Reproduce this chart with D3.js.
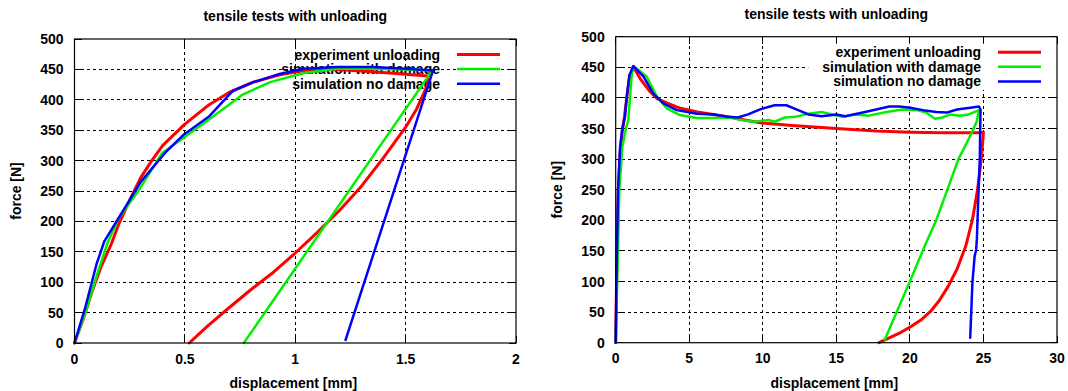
<!DOCTYPE html>
<html>
<head>
<meta charset="utf-8">
<script src="https://cdn.jsdelivr.net/npm/d3@7/dist/d3.min.js"></script>
<style>
  html, body { margin: 0; padding: 0; background: #fff; }
  svg { display: block; }
  text { font-family: "Liberation Sans", Arial, Helvetica, sans-serif; font-weight: bold; fill: #000; }
</style>
</head>
<body>
<svg id="chart" width="1068" height="391"></svg>
<script>
// ---- data: force [N] versus displacement [mm] ----
const seriesNames = ["experiment unloading", "simulation with damage", "simulation no damage"];
const seriesColors = ["#ff0000", "#00f000", "#0000ff"];
const seriesWidths = [3, 2.5, 2.5];

const yTicks = [0, 50, 100, 150, 200, 250, 300, 350, 400, 450, 500];

// short test (unloading from ~1.6 mm)
const shortXTicks = [0, 0.5, 1, 1.5, 2];
const shortXTickLabels = ["0", "0.5", "1", "1.5", "2"];
const shortExperiment = [
  [0, 0], [0.04, 40], [0.08, 85], [0.12, 125], [0.166, 162], [0.2, 195], [0.25, 235], [0.3, 272],
  [0.35, 300], [0.4, 325], [0.5, 360], [0.61, 392], [0.7, 412], [0.81, 429], [0.93, 441],
  [1.04, 448], [1.19, 450], [1.35, 446], [1.5, 442], [1.6, 439],
  [1.6, 425], [1.55, 385], [1.5, 355], [1.4, 305], [1.3, 258], [1.2, 218], [1.1, 182],
  [1.0, 148], [0.9, 116], [0.8, 88], [0.7, 58], [0.6, 27], [0.52, 0]
];
const shortDamage = [
  [0, 0], [0.05, 50], [0.1, 110], [0.15, 165], [0.2, 205], [0.289, 250], [0.396, 312],
  [0.496, 338], [0.611, 368], [0.764, 409], [0.887, 429], [1.04, 444], [1.19, 451],
  [1.35, 451], [1.5, 450], [1.62, 448], [0.767, 0]
];
const shortNoDamage = [
  [0, 0], [0.05, 60], [0.1, 130], [0.135, 167], [0.18, 194], [0.258, 240], [0.3, 265],
  [0.411, 313], [0.496, 343], [0.611, 373], [0.718, 415], [0.81, 429], [0.933, 443],
  [1.04, 451], [1.19, 454], [1.35, 454], [1.5, 451], [1.624, 448], [1.228, 5]
];

// long test (unloading from ~25 mm)
const longXTicks = [0, 5, 10, 15, 20, 25, 30];
const longXTickLabels = ["0", "5", "10", "15", "20", "25", "30"];
const longExperiment = [
  [0, 0], [0.06, 100], [0.18, 250], [0.3, 310], [0.45, 345], [0.6, 370], [0.75, 400], [0.95, 435],
  [1.2, 451], [1.65, 432], [2.34, 410], [2.8, 399], [3.47, 392], [4.4, 383], [5.55, 377],
  [7.4, 370], [8.5, 365], [9.9, 359], [12.0, 355], [15.0, 350], [17.7, 346], [20.0, 344],
  [22.3, 343], [24.6, 343], [25.0, 344], [24.85, 300], [24.6, 250], [24.25, 201], [23.8, 158],
  [23.2, 120], [22.6, 92], [22.0, 69], [21.4, 51], [20.8, 38], [20.1, 27], [19.4, 17],
  [18.6, 8], [17.9, 0]
];
const longDamage = [
  [0, 0], [0.1, 100], [0.25, 250], [0.45, 320], [0.7, 350], [0.86, 364], [1.0, 410], [1.1, 440],
  [1.26, 451], [2.1, 435], [2.8, 402], [3.47, 383], [4.37, 372], [5.5, 367], [6.7, 367],
  [7.84, 368], [8.5, 364], [9.45, 361], [10.4, 364], [10.8, 361], [11.5, 368], [12.2, 369],
  [13.1, 374], [14.0, 377], [14.7, 373], [15.4, 369], [16.3, 373], [17.2, 371], [18.4, 377],
  [19.5, 381], [20.5, 380], [21.1, 376], [21.7, 366], [22.2, 368], [22.75, 373], [23.4, 371],
  [24.0, 373], [24.7, 380], [24.55, 362], [24.2, 343], [23.75, 321], [23.3, 300], [22.55, 250],
  [21.8, 201], [20.92, 153], [20.0, 100], [19.08, 49], [18.4, 11], [18.3, 5]
];
const longNoDamage = [
  [0, 0], [0.05, 100], [0.16, 250], [0.3, 320], [0.45, 350], [0.63, 369], [0.75, 402],
  [0.93, 437], [1.2, 452], [1.88, 435], [2.56, 407], [3.24, 391], [4.15, 380], [5.5, 374],
  [6.7, 373], [7.6, 369], [8.3, 368], [9.0, 373], [9.9, 382], [10.8, 388], [11.6, 388],
  [12.2, 382], [13.1, 373], [14.0, 370], [15.0, 373], [15.6, 370], [16.8, 376], [17.7, 381],
  [18.6, 386], [19.3, 386], [20.0, 384], [20.9, 380], [21.8, 377], [22.5, 376], [23.2, 381],
  [24.1, 384], [24.7, 386], [24.8, 381], [24.75, 300], [24.67, 250], [24.55, 168], [24.5, 152],
  [24.4, 141], [24.25, 98], [24.1, 8]
];

// ---- panel layout ----
const panels = [
  {
    box: { left: 74.5, right: 516, top: 39, bottom: 343 },
    xDomain: [0, 2], xTicks: shortXTicks, xLabels: shortXTickLabels,
    series: [shortExperiment, shortDamage, shortNoDamage],
    opaqueKey: false
  },
  {
    box: { left: 615.7, right: 1057, top: 36.7, bottom: 342.7 },
    xDomain: [0, 30], xTicks: longXTicks, xLabels: longXTickLabels,
    series: [longExperiment, longDamage, longNoDamage],
    opaqueKey: true
  }
];

const svg = d3.select("#chart");
const TICK = 7;

panels.forEach(p => {
  const b = p.box;
  const x = d3.scaleLinear().domain(p.xDomain).range([b.left, b.right]);
  const y = d3.scaleLinear().domain([0, 500]).range([b.bottom, b.top]);
  const g = svg.append("g");

  // dashed grid at interior ticks
  const grid = g.append("g").attr("stroke", "#000").attr("stroke-width", 1)
    .attr("stroke-dasharray", "3,3").attr("shape-rendering", "crispEdges");
  p.xTicks.slice(1, -1).forEach(t => {
    grid.append("line").attr("x1", x(t)).attr("x2", x(t)).attr("y1", b.bottom).attr("y2", b.top);
  });
  yTicks.slice(1, -1).forEach(t => {
    grid.append("line").attr("x1", b.left).attr("x2", b.right).attr("y1", y(t)).attr("y2", y(t));
  });

  // inward tick marks on all four sides
  const ticks = g.append("g").attr("stroke", "#000").attr("stroke-width", 1).attr("shape-rendering", "crispEdges");
  p.xTicks.forEach(t => {
    ticks.append("line").attr("x1", x(t)).attr("x2", x(t)).attr("y1", b.bottom).attr("y2", b.bottom - TICK);
    ticks.append("line").attr("x1", x(t)).attr("x2", x(t)).attr("y1", b.top).attr("y2", b.top + TICK);
  });
  yTicks.forEach(t => {
    ticks.append("line").attr("x1", b.left).attr("x2", b.left + TICK).attr("y1", y(t)).attr("y2", y(t));
    ticks.append("line").attr("x1", b.right).attr("x2", b.right - TICK).attr("y1", y(t)).attr("y2", y(t));
  });

  // tick labels
  g.append("g").selectAll("text").data(p.xTicks).join("text")
    .attr("x", d => x(d)).attr("y", b.bottom + 20.5)
    .attr("text-anchor", "middle").attr("font-size", 14)
    .text((d, i) => p.xLabels[i]);
  g.append("g").selectAll("text").data(yTicks).join("text")
    .attr("x", b.left - 11).attr("y", d => y(d) + 5)
    .attr("text-anchor", "end").attr("font-size", 14)
    .text(d => d);

  // titles
  const cx = (b.left + b.right) / 2;
  g.append("text").attr("x", cx).attr("y", b.top - 18).attr("text-anchor", "middle")
    .attr("font-size", 14).text("tensile tests with unloading");
  g.append("text").attr("x", cx - 2).attr("y", b.bottom + 45).attr("text-anchor", "middle")
    .attr("font-size", 14).text("displacement [mm]");
  g.append("text").attr("transform", `translate(${b.left - 53.5},${(b.top + b.bottom) / 2}) rotate(-90)`)
    .attr("text-anchor", "middle").attr("font-size", 14).text("force [N]");

  // key
  const key = g.append("g");
  const textRight = b.right - 76;
  const rowY = i => b.top + 15.5 + i * 14.6;
  const keyBg = key.append("rect").attr("fill", "#fff");
  const labels = key.selectAll("text.k").data(seriesNames).join("text").attr("class", "k")
    .attr("x", textRight).attr("y", (d, i) => rowY(i) + 5)
    .attr("text-anchor", "end").attr("font-size", 14).text(d => d);
  key.selectAll("line").data(seriesColors).join("line")
    .attr("x1", b.right - 59).attr("x2", b.right - 16)
    .attr("y1", (d, i) => rowY(i)).attr("y2", (d, i) => rowY(i))
    .attr("stroke", d => d).attr("stroke-width", (d, i) => seriesWidths[i]);
  if (p.opaqueKey) {
    let w = 0;
    labels.each(function () { w = Math.max(w, this.getComputedTextLength()); });
    const kx = textRight - w - 14;
    keyBg.attr("x", kx).attr("y", rowY(0) - 8.5).attr("width", b.right - kx)
      .attr("height", rowY(2) - rowY(0) + 17);
  } else {
    keyBg.remove();
  }

  // curves
  const line = d3.line().x(d => x(d[0])).y(d => y(d[1]));
  p.series.forEach((s, i) => {
    g.append("path").datum(s).attr("d", line).attr("fill", "none")
      .attr("stroke", seriesColors[i]).attr("stroke-width", seriesWidths[i])
      .attr("stroke-linejoin", "round").attr("stroke-linecap", "round");
  });

  // frame on top
  g.append("rect").attr("x", b.left).attr("y", b.top)
    .attr("width", b.right - b.left).attr("height", b.bottom - b.top)
    .attr("fill", "none").attr("stroke", "#000").attr("stroke-width", 1.2);
});
</script>
</body>
</html>
